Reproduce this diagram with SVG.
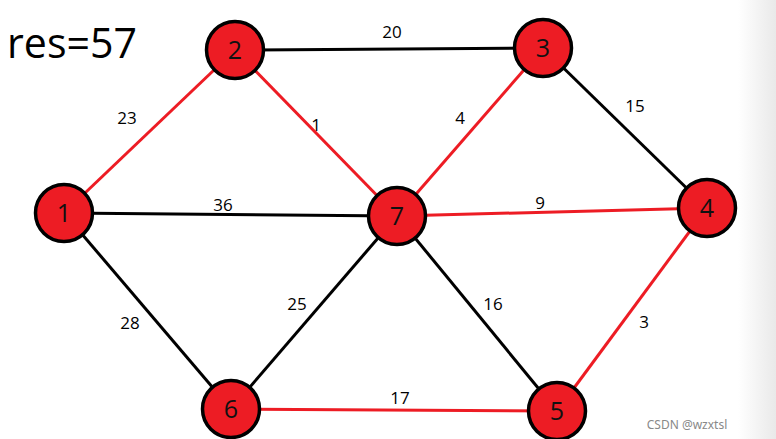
<svg xmlns="http://www.w3.org/2000/svg" width="776" height="439" viewBox="0 0 776 439">
<style>
.e{stroke-width:3;fill:none}
.r{stroke:#ED1C24}
.b{stroke:#000}
.n circle{fill:#ED1C24;stroke:#000;stroke-width:3.5}
.n text{font-family:"Open Sans","Noto Sans",sans-serif;font-size:25px;fill:#111;text-anchor:middle}
.w{font-family:"Open Sans","Noto Sans",sans-serif;font-size:17px;fill:#000;text-anchor:middle}
</style>
<defs>
<linearGradient id="g" x1="0" x2="1" y1="0" y2="0">
<stop offset="0" stop-color="#fff"/>
<stop offset="1" stop-color="#e9e9e9"/>
</linearGradient>
</defs>
<rect width="776" height="439" fill="#fff"/>
<rect x="738" width="38" height="439" fill="url(#g)"/>
<text x="7" y="58" font-family="Open Sans, Noto Sans, sans-serif" font-size="42" fill="#000" textLength="130" lengthAdjust="spacingAndGlyphs">res=57</text>
<g id="edges">
<line class="e r" x1="64" y1="213" x2="235" y2="50"/>
<line class="e r" x1="235" y1="50" x2="397" y2="216"/>
<line class="e b" x1="235" y1="50" x2="543" y2="48"/>
<line class="e r" x1="543" y1="48" x2="397" y2="216"/>
<line class="e b" x1="543" y1="48" x2="707" y2="208"/>
<line class="e b" x1="64" y1="213" x2="397" y2="216"/>
<line class="e r" x1="397" y1="216" x2="707" y2="208"/>
<line class="e b" x1="64" y1="213" x2="231" y2="409"/>
<line class="e b" x1="397" y1="216" x2="231" y2="409"/>
<line class="e b" x1="397" y1="216" x2="557" y2="411"/>
<line class="e r" x1="707" y1="208" x2="557" y2="411"/>
<line class="e r" x1="231" y1="409" x2="557" y2="411"/>
<text class="w" x="392" y="38">20</text>
<text class="w" x="127" y="124">23</text>
<text class="w" x="316" y="131">1</text>
<text class="w" x="460" y="124">4</text>
<text class="w" x="635" y="112">15</text>
<text class="w" x="223" y="211">36</text>
<text class="w" x="540" y="209">9</text>
<text class="w" x="297" y="310">25</text>
<text class="w" x="493" y="310">16</text>
<text class="w" x="130" y="329">28</text>
<text class="w" x="644" y="328">3</text>
<text class="w" x="400" y="404">17</text>
</g>
<g id="n1" class="n"><circle cx="64" cy="213" r="28.5"/><text x="64" y="222">1</text></g>
<g id="n2" class="n"><circle cx="235" cy="50" r="28.5"/><text x="235" y="59">2</text></g>
<g id="n3" class="n"><circle cx="543" cy="48" r="28.5"/><text x="543" y="57">3</text></g>
<g id="n4" class="n"><circle cx="707" cy="208" r="28.5"/><text x="707" y="217">4</text></g>
<g id="n5" class="n"><circle cx="557" cy="411" r="28.5"/><text x="557" y="420">5</text></g>
<g id="n6" class="n"><circle cx="231" cy="409" r="28.5"/><text x="231" y="418">6</text></g>
<g id="n7" class="n"><circle cx="397" cy="216" r="28.5"/><text x="397" y="225">7</text></g>
<text x="687" y="429" font-family="Noto Sans, sans-serif" font-size="12" fill="#888" text-anchor="middle">CSDN @wzxtsl</text>
</svg>
